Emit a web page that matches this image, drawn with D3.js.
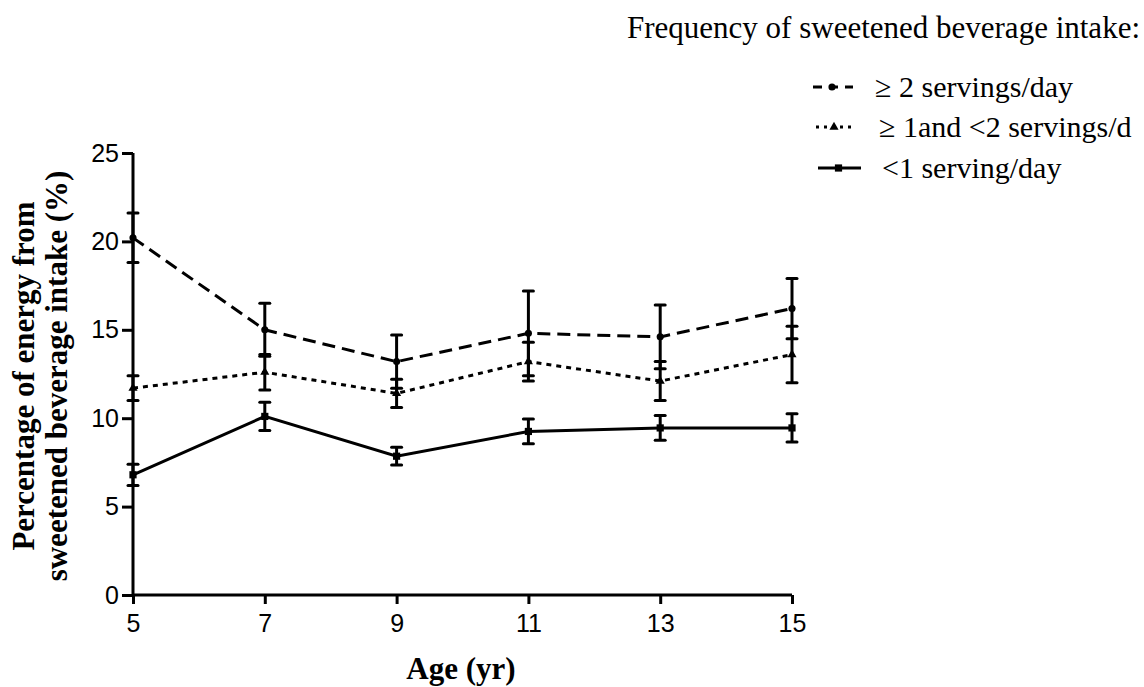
<!DOCTYPE html>
<html>
<head>
<meta charset="utf-8">
<script src="https://cdn.jsdelivr.net/npm/d3@7"></script>
<style>
  body { margin: 0; background: #fff; }
  svg { display: block; }
</style>
</head>
<body>
<div class="plot"></div>
<script>
const ages = [5, 7, 9, 11, 13, 15];
const yTicks = [0, 5, 10, 15, 20, 25];

// mean and error (+/-)
const high_mean = [20.2, 15.0, 13.2, 14.8, 14.6, 16.2];
const high_err  = [1.4, 1.5, 1.5, 2.4, 1.8, 1.7];
const mid_mean  = [11.7, 12.6, 11.4, 13.2, 12.1, 13.6];
const mid_err   = [0.7, 1.0, 0.8, 1.1, 1.1, 1.6];
const low_mean  = [6.8, 10.1, 7.85, 9.25, 9.45, 9.45];
const low_err   = [0.6, 0.8, 0.5, 0.7, 0.7, 0.8];

const seriesNames = ['\u2265 2 servings/day', '\u2265 1and <2 servings/d', '<1 serving/day'];

const series = [
  {name: seriesNames[0], mean: high_mean, err: high_err, dash: '13,7', marker: 'circle'},
  {name: seriesNames[1], mean: mid_mean, err: mid_err, dash: '5,5', marker: 'triangle'},
  {name: seriesNames[2], mean: low_mean, err: low_err, dash: null, marker: 'square'}
];

const width = 1144, height = 687;
const plot = {left: 133, right: 792, top: 153, bottom: 595};
const serif = 'Liberation Serif, Times New Roman, serif';
const sans = 'Liberation Sans, Arial, sans-serif';

const svg = d3.select('.plot')
              .append('svg')
              .attr('width', width)
              .attr('height', height);

const xScale = d3.scaleLinear()
                 .domain([5, 15])
                 .range([plot.left, plot.right]);
const yScale = d3.scaleLinear()
                 .domain([0, 25])
                 .range([plot.bottom, plot.top]);

const symbolFor = m => m === 'circle' ? d3.symbol(d3.symbolCircle, 40)
                     : m === 'triangle' ? d3.symbol(d3.symbolTriangle, 36)
                     : d3.symbol(d3.symbolSquare, 52);

// lines, error bars, markers
series.forEach(s => {
  const pts = ages.map((a, i) => ({x: a, y: s.mean[i], e: s.err[i]}));
  const line = d3.line().x(d => xScale(d.x)).y(d => yScale(d.y));
  svg.append('path')
     .datum(pts)
     .attr('d', line)
     .attr('fill', 'none')
     .attr('stroke', '#000')
     .attr('stroke-width', 3)
     .attr('stroke-dasharray', s.dash);

  const eb = svg.append('g').selectAll('g').data(pts).enter().append('g');
  eb.append('line')
    .attr('x1', d => xScale(d.x)).attr('x2', d => xScale(d.x))
    .attr('y1', d => yScale(d.y - d.e)).attr('y2', d => yScale(d.y + d.e))
    .attr('stroke', '#000').attr('stroke-width', 3);
  [-1, 1].forEach(sg => {
    eb.append('line')
      .attr('x1', d => xScale(d.x) - 5).attr('x2', d => xScale(d.x) + 5)
      .attr('y1', d => yScale(d.y + sg * d.e)).attr('y2', d => yScale(d.y + sg * d.e))
      .attr('stroke', '#000').attr('stroke-width', 3).attr('stroke-linecap', 'round');
  });
  eb.append('path')
    .attr('d', symbolFor(s.marker))
    .attr('transform', d => `translate(${xScale(d.x)},${yScale(d.y)})`)
    .attr('fill', '#000');
});

// axes
const xAxis = d3.axisBottom(xScale).tickValues(ages).tickSize(9).tickPadding(10);
const yAxis = d3.axisLeft(yScale).tickValues(yTicks).tickSize(11).tickPadding(3);

const gx = svg.append('g')
   .attr('class', 'axis x-axis')
   .attr('transform', `translate(0, ${plot.bottom})`)
   .call(xAxis);
const gy = svg.append('g')
   .attr('class', 'axis y-axis')
   .attr('transform', `translate(${plot.left}, 0)`)
   .call(yAxis);

[gx, gy].forEach(g => {
  g.select('.domain').attr('stroke-width', 3).attr('stroke', '#000');
  g.selectAll('.tick line').attr('stroke-width', 3).attr('stroke', '#000');
  g.selectAll('.tick text')
   .attr('font-family', sans)
   .attr('font-size', 25)
   .attr('fill', '#000');
});
gx.select('.domain').attr('d', `M${plot.left},0H${plot.right}`);
gy.select('.domain').attr('d', `M0,${plot.top}V${plot.bottom}`);

// axis labels
svg.append('text')
   .attr('x', 461).attr('y', 679)
   .attr('text-anchor', 'middle')
   .attr('font-family', serif)
   .attr('font-weight', 'bold')
   .attr('font-size', 31)
   .text('Age (yr)');

const yl = svg.append('text')
   .attr('transform', 'translate(34, 376) rotate(-90)')
   .attr('text-anchor', 'middle')
   .attr('font-family', serif)
   .attr('font-weight', 'bold')
   .attr('font-size', 31);
yl.append('tspan').attr('x', 0).attr('dy', 0).text('Percentage of energy from');
yl.append('tspan').attr('x', 0).attr('dy', 33).text('sweetened beverage intake (%)');

// legend
svg.append('text')
   .attr('x', 1140).attr('y', 38)
   .attr('text-anchor', 'end')
   .attr('font-family', serif)
   .attr('font-size', 31)
   .text('Frequency of sweetened beverage intake:');

const legendY = [87, 127, 168];
const legendTextX = [875, 879, 882];
const legendLine = [[813, 853], [816, 854], [818, 861]];
const legendDash = ['9,7', '3,5', null];
series.forEach((s, i) => {
  const g = svg.append('g').attr('transform', `translate(0, ${legendY[i]})`);
  const [x0, x1] = legendLine[i];
  g.append('line')
   .attr('x1', x0).attr('x2', x1)
   .attr('y1', 0).attr('y2', 0)
   .attr('stroke', '#000')
   .attr('stroke-width', 3)
   .attr('stroke-dasharray', legendDash[i]);
  g.append('path')
   .attr('d', symbolFor(s.marker))
   .attr('transform', `translate(${(x0 + x1) / 2 - 1},0)`)
   .attr('fill', '#000');
  g.append('text')
   .attr('x', legendTextX[i]).attr('y', 10)
   .attr('font-family', serif)
   .attr('font-size', 30)
   .text(s.name);
});
</script>
</body>
</html>
